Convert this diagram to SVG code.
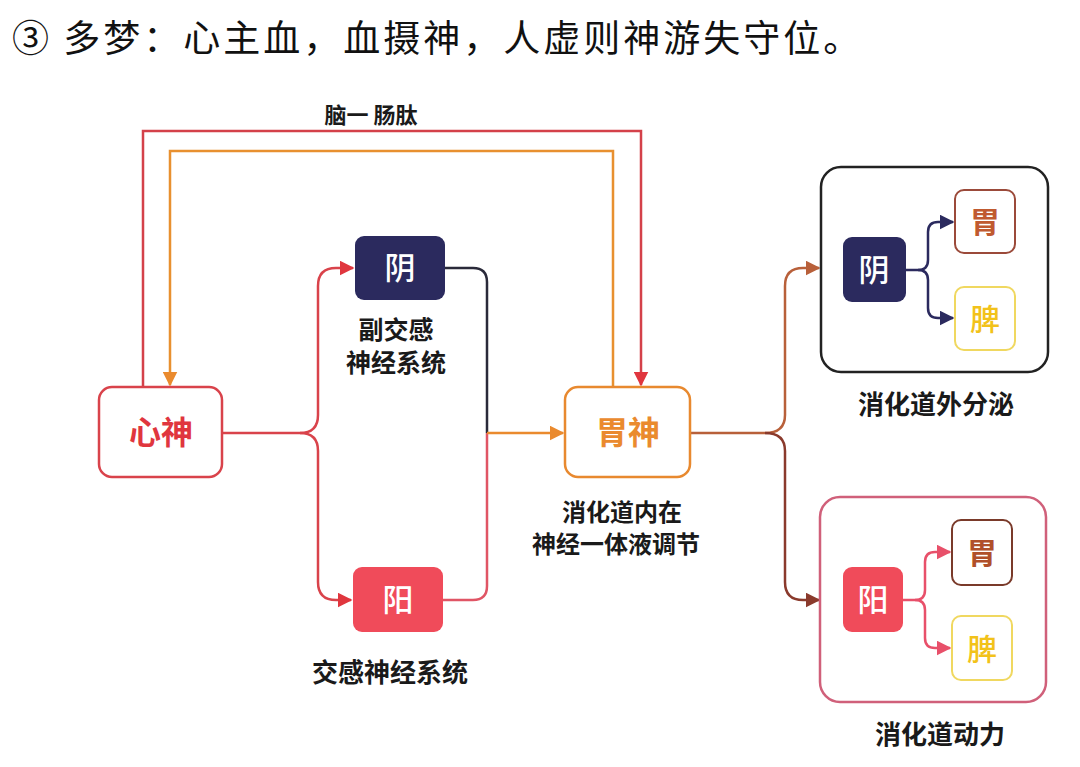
<svg xmlns="http://www.w3.org/2000/svg" width="1080" height="767" viewBox="0 0 1080 767">
<style>
text{font-family:"Noto Sans CJK SC","Noto Sans",sans-serif;text-anchor:middle;}
.lbl{font-size:25px;font-weight:bold;fill:#1a1a1a;}
.box{font-size:32px;font-weight:bold;}
.wt{font-size:31px;font-weight:500;fill:#fff;}
.ln{fill:none;stroke-width:2.5;}
</style>
<defs>
<marker id="aR" viewBox="0 0 10 10" refX="9" refY="5" markerWidth="6" markerHeight="6" orient="auto"><path d="M0,0L10,5L0,10z" fill="#e0363e"/></marker>
<marker id="aO" viewBox="0 0 10 10" refX="9" refY="5" markerWidth="6" markerHeight="6" orient="auto"><path d="M0,0L10,5L0,10z" fill="#ea8a2e"/></marker>
<marker id="aB" viewBox="0 0 10 10" refX="9" refY="5" markerWidth="6" markerHeight="6" orient="auto"><path d="M0,0L10,5L0,10z" fill="#b8603a"/></marker>
<marker id="aBr" viewBox="0 0 10 10" refX="9" refY="5" markerWidth="6" markerHeight="6" orient="auto"><path d="M0,0L10,5L0,10z" fill="#8a3a2c"/></marker>
<marker id="aN" viewBox="0 0 10 10" refX="9" refY="5" markerWidth="6" markerHeight="6" orient="auto"><path d="M0,0L10,5L0,10z" fill="#2b2a5e"/></marker>
<marker id="aP" viewBox="0 0 10 10" refX="9" refY="5" markerWidth="6" markerHeight="6" orient="auto"><path d="M0,0L10,5L0,10z" fill="#e8506a"/></marker>
</defs>
<rect width="1080" height="767" fill="#fff"/>
<text x="12" y="52" style="text-anchor:start;font-size:37px;letter-spacing:3px" fill="#111">③ 多梦：心主血，血摄神，人虚则神游失守位。</text>

<g id="connectors">
<text x="371" y="123" class="lbl" style="font-size:22px">脑一 肠肽</text>
<path class="ln" stroke="#d4414a" d="M143,387V131H641V385" marker-end="url(#aR)"/>
<path class="ln" stroke="#e8902f" d="M613,387V151H170V385" marker-end="url(#aO)"/>
<path class="ln" stroke="#d9434b" d="M222,433H300Q318,433 318,415V286Q318,268 336,268H353" marker-end="url(#aR)"/>
<path class="ln" stroke="#d9434b" d="M300,433Q318,433 318,451V582Q318,600 336,600H351" marker-end="url(#aR)"/>
<path class="ln" stroke="#2a2a3a" d="M445,268H473Q487,268 487,282V433"/>
<path class="ln" stroke="#e05565" d="M443,600H473Q487,600 487,586V433"/>
<path class="ln" stroke="#ea8a2e" d="M487,433H563" marker-end="url(#aO)"/>
<path class="ln" stroke="#b8603a" d="M690,433H765Q785,433 785,415V286Q785,268 803,268H819" marker-end="url(#aB)"/>
<path class="ln" stroke="#8a3a2c" d="M765,433Q785,433 785,451V582Q785,600 803,600H819" marker-end="url(#aBr)"/>
<path class="ln" stroke="#2b2a5e" d="M906,270H918Q928,270 928,260V232Q928,222 938,222H953" marker-end="url(#aN)"/>
<path class="ln" stroke="#2b2a5e" d="M918,270Q928,270 928,280V308Q928,318 938,318H953" marker-end="url(#aN)"/>
<path class="ln" stroke="#e8506a" d="M903,600H915Q925,600 925,590V562Q925,552 935,552H950" marker-end="url(#aP)"/>
<path class="ln" stroke="#e8506a" d="M915,600Q925,600 925,610V638Q925,648 935,648H950" marker-end="url(#aP)"/>
</g>

<g id="xinshen">
<rect x="99" y="387" width="123" height="90" rx="13" fill="#fff" stroke="#d9434b" stroke-width="2.5"/>
<text x="161" y="444" class="box" fill="#e0363e">心神</text>
</g>
<g id="yin1">
<rect x="355" y="236" width="90" height="64" rx="9" fill="#2b2a5e"/>
<text x="400" y="279" class="wt">阴</text>
<text x="396" y="339" class="lbl">副交感</text>
<text x="396" y="372" class="lbl">神经系统</text>
</g>
<g id="yang1">
<rect x="353" y="567" width="90" height="65" rx="9" fill="#f04b5a"/>
<text x="398" y="611" class="wt">阳</text>
<text x="390" y="682" class="lbl" style="font-size:26px">交感神经系统</text>
</g>
<g id="weishen">
<rect x="565" y="387" width="125" height="90" rx="13" fill="#fff" stroke="#e8892f" stroke-width="2.5"/>
<text x="628" y="444" class="box" fill="#ea8a2e">胃神</text>
<text x="622" y="521" class="lbl" style="font-size:24px">消化道内在</text>
<text x="616" y="553" class="lbl" style="font-size:24px">神经一体液调节</text>
</g>
<g id="waifenmi">
<rect x="821" y="167" width="227" height="205" rx="20" fill="none" stroke="#222" stroke-width="2.5"/>
<rect x="843" y="237" width="63" height="65" rx="9" fill="#2b2a5e"/>
<text x="874" y="281" class="wt">阴</text>
<rect x="955" y="190" width="60" height="63" rx="9" fill="#fff" stroke="#9b4a3a" stroke-width="2"/>
<text x="985" y="233" class="box" style="font-size:30px" fill="#c05a30">胃</text>
<rect x="955" y="287" width="60" height="63" rx="9" fill="#fff" stroke="#f0d860" stroke-width="2"/>
<text x="985" y="330" class="box" style="font-size:30px;font-weight:500" fill="#f2c21a">脾</text>
<text x="936" y="414" class="lbl" style="font-size:26px">消化道外分泌</text>
</g>
<g id="dongli">
<rect x="820" y="497" width="226" height="205" rx="20" fill="none" stroke="#d0607a" stroke-width="2.5"/>
<rect x="843" y="567" width="60" height="65" rx="9" fill="#f04b5a"/>
<text x="873" y="611" class="wt">阳</text>
<rect x="952" y="520" width="60" height="65" rx="9" fill="#fff" stroke="#7a3a2a" stroke-width="2"/>
<text x="982" y="564" class="box" style="font-size:30px" fill="#b0502a">胃</text>
<rect x="952" y="616" width="60" height="64" rx="9" fill="#fff" stroke="#f0d860" stroke-width="2"/>
<text x="982" y="660" class="box" style="font-size:30px;font-weight:500" fill="#f2c21a">脾</text>
<text x="940" y="744" class="lbl" style="font-size:26px">消化道动力</text>
</g>
</svg>
